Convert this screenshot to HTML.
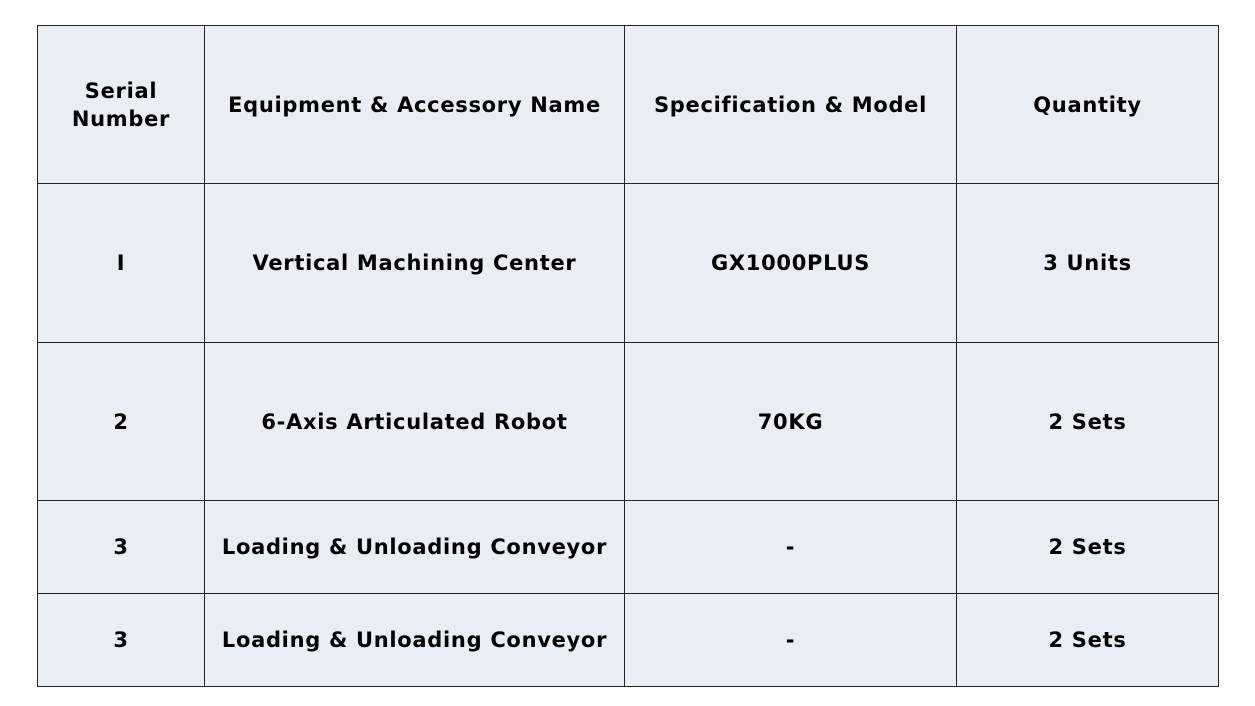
<!DOCTYPE html>
<html><head><meta charset="utf-8"><style>
html,body{margin:0;padding:0;background:#fff;width:1255px;height:706px;overflow:hidden}
.c{position:absolute;background:#e9edf4;border:1px solid #222;box-sizing:border-box;display:flex;align-items:center;justify-content:center;text-align:center;font-family:"DejaVu Sans","Liberation Sans",sans-serif;font-weight:bold;font-size:21px;color:#000;line-height:28px;letter-spacing:0.7px}
</style></head><body>
<div id="t"></div>
<script>
const xs=[37,204,624,956,1218], ys=[25,183,342,500,593,686];
const d=[["Serial<br>Number","Equipment &amp; Accessory Name","Specification &amp; Model","Quantity"],
["I","Vertical Machining Center","GX1000PLUS","3 Units"],
["2","6-Axis Articulated Robot","70KG","2 Sets"],
["3","Loading &amp; Unloading Conveyor","-","2 Sets"],
["3","Loading &amp; Unloading Conveyor","-","2 Sets"]];
let h="";
for(let r=0;r<5;r++)for(let c=0;c<4;c++){
h+=`<div class="c" style="left:${xs[c]}px;top:${ys[r]}px;width:${xs[c+1]-xs[c]+1}px;height:${ys[r+1]-ys[r]+1}px">${d[r][c]}</div>`;}
document.getElementById("t").innerHTML=h;
</script>
</body></html>
